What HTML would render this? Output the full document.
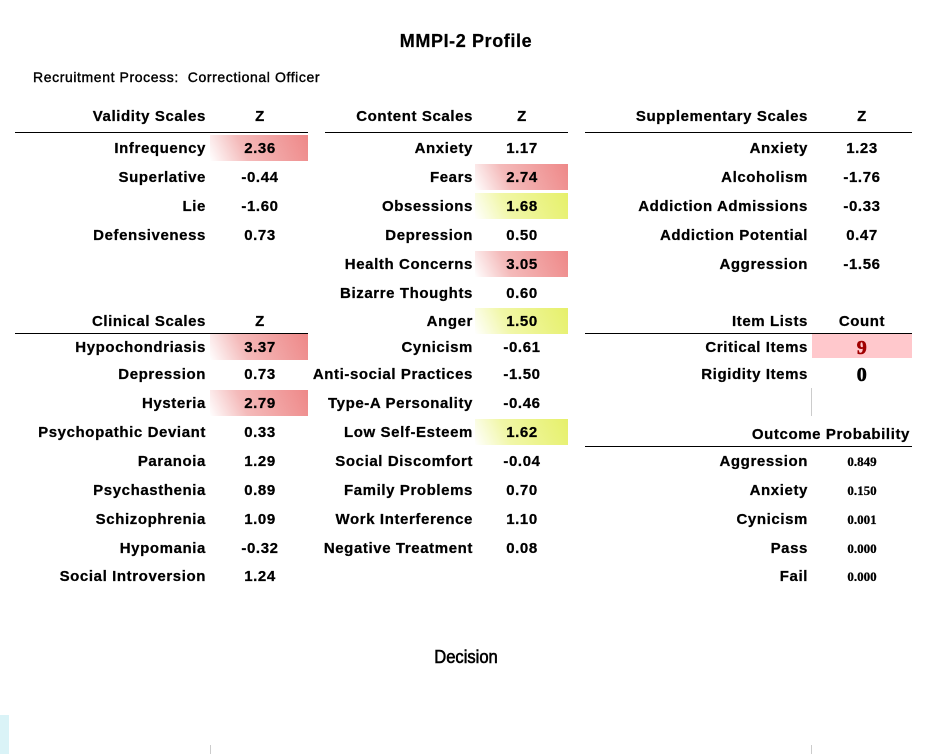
<!DOCTYPE html>
<html><head><meta charset="utf-8">
<style>
body{margin:0;width:931px;height:754px;background:#fff;position:relative;overflow:hidden;font-family:"Liberation Sans",sans-serif;color:#000}
.t{position:absolute;white-space:nowrap;font-weight:bold;font-size:15px;letter-spacing:0.6px;line-height:18px;-webkit-text-stroke:0.25px #000}
.r{text-align:right}
.c{text-align:center}
.line{position:absolute;height:1px;background:#000}
.hl-red{position:absolute;background:linear-gradient(65deg,#ffffff 0%,#f4baba 35%,#ee8888 100%)}
.hl-yel{position:absolute;background:linear-gradient(65deg,#ffffff 0%,#f1f7a8 35%,#e6f06a 100%)}
</style></head>
<body>
<div class="t c" style="left:266px;width:400px;top:32px;font-size:18px">MMPI-2 Profile</div>
<div class="t" style="left:33px;top:68px;font-size:14px;font-weight:normal;-webkit-text-stroke:0.4px #000">Recruitment Process:&nbsp; Correctional Officer</div>
<div id="root"></div>
<div class="t c" style="left:366px;width:200px;top:648px;font-size:18px;font-weight:normal;letter-spacing:0;transform:scaleX(0.92);-webkit-text-stroke:0.6px #000">Decision</div>
<div style="position:absolute;left:0;top:715px;width:9px;height:39px;background:#daf3f7"></div>
<div style="position:absolute;left:210px;top:745px;width:1px;height:9px;background:#ccc"></div>
<div style="position:absolute;left:811px;top:745px;width:1px;height:9px;background:#ccc"></div>
<div style="position:absolute;left:811px;top:388px;width:1px;height:28px;background:#ccc"></div>
<script>
const validityLabels=["Infrequency","Superlative","Lie","Defensiveness"];
const validityZ=[2.36,-0.44,-1.60,0.73];
const clinicalLabels=["Hypochondriasis","Depression","Hysteria","Psychopathic Deviant","Paranoia","Psychasthenia","Schizophrenia","Hypomania","Social Introversion"];
const clinicalZ=[3.37,0.73,2.79,0.33,1.29,0.89,1.09,-0.32,1.24];
const contentLabels=["Anxiety","Fears","Obsessions","Depression","Health Concerns","Bizarre Thoughts","Anger","Cynicism","Anti-social Practices","Type-A Personality","Low Self-Esteem","Social Discomfort","Family Problems","Work Interference","Negative Treatment"];
const contentZ=[1.17,2.74,1.68,0.50,3.05,0.60,1.50,-0.61,-1.50,-0.46,1.62,-0.04,0.70,1.10,0.08];
const suppLabels=["Anxiety","Alcoholism","Addiction Admissions","Addiction Potential","Aggression"];
const suppZ=[1.23,-1.76,-0.33,0.47,-1.56];
const itemLabels=["Critical Items","Rigidity Items"];
const itemCounts=[9,0];
const outcomeLabels=["Aggression","Anxiety","Cynicism","Pass","Fail"];
const outcomeProb=[0.849,0.150,0.001,0.000,0.000];

const root=document.getElementById('root');
function txt(s,x,y,w,cls,name,extra){
  const d=document.createElement('div');
  d.className='t '+cls;
  
  
  d.style.left=x+'px';d.style.top=(y-8)+'px';d.style.width=w+'px';
  if(extra)Object.assign(d.style,extra);
  d.textContent=s;root.appendChild(d);return d;
}
function line(x,y,w,name){
  const d=document.createElement('div');d.className='line';
  
  
  d.style.left=x+'px';d.style.top=y+'px';d.style.width=w+'px';root.appendChild(d);
}
function hl(cls,x,y,w,h,name){
  const d=document.createElement('div');d.className=cls;
  
  
  d.style.left=x+'px';d.style.top=y+'px';d.style.width=w+'px';d.style.height=h+'px';root.appendChild(d);
}
function section(title,vh,labels,vals,rowsY,labelRight,valCenter,cellX,cellW,key){
  txt(title,labelRight-300,rowsY.h+1,300,'r',key+'-header');
  txt(vh,valCenter-50,rowsY.h+1,100,'c',key+'-value-header');
  line(rowsY.lx,rowsY.ly,rowsY.lw,key+'-header-rule');
  labels.forEach((l,i)=>{
    const y=rowsY.rows[i];
    const v=vals[i];
    if(v>=2) hl('hl-red',cellX,y-13,cellW,26,key+'-highlight');
    else if(v>=1.5) hl('hl-yel',cellX,y-13,cellW,26,key+'-highlight');
    txt(l,labelRight-300,y,300,'r',key+'-label');
    txt(v.toFixed(2),valCenter-50,y,100,'c',key+'-value');
  });
}
const r1=[148,177,206,235,264,293,321,347,374,403,432,461,490,519,548];
const r2=[347,374,403,432,461,490,519,548,576];
section('Validity Scales','Z',validityLabels,validityZ,{h:115,ly:132,lx:15,lw:293,rows:r1},206,260,210,98,'validity');
section('Clinical Scales','Z',clinicalLabels,clinicalZ,{h:320,ly:333,lx:15,lw:293,rows:r2},206,260,210,98,'clinical');
section('Content Scales','Z',contentLabels,contentZ,{h:115,ly:132,lx:325,lw:243,rows:r1},473,522,475,93,'content');
section('Supplementary Scales','Z',suppLabels,suppZ,{h:115,ly:132,lx:585,lw:327,rows:r1},808,862,812,100,'supplementary');
txt('Item Lists',508,321,300,'r','item-lists-header');
txt('Count',812,321,100,'c','count-header');
line(585,333,327,'item-lists-rule');
itemLabels.forEach((l,i)=>{
  const y=[347,374][i];
  if(itemCounts[i]>0){
    const d=document.createElement('div');
    
    
    Object.assign(d.style,{position:'absolute',left:'812px',top:(y-13)+'px',width:'100px',height:'24px',background:'#ffc8cc'});
    root.appendChild(d);
  }
  txt(l,508,y,300,'r','item-label');
  txt(String(itemCounts[i]),812,y,100,'c','item-count',{fontFamily:'"Liberation Serif",serif',fontSize:'20px',color:itemCounts[i]>0?'#a00000':'#000',webkitTextStroke:'0.6px '+(itemCounts[i]>0?'#a00000':'#000')});
});
txt('Outcome Probability',610,434,300,'r','outcome-header');
line(585,446,327,'outcome-rule');
outcomeLabels.forEach((l,i)=>{
  const y=[461,490,519,548,576][i];
  txt(l,508,y,300,'r','outcome-label');
  txt(outcomeProb[i].toFixed(3),812,y,100,'c','outcome-value',{fontFamily:'"Liberation Serif",serif',fontSize:'13px',letterSpacing:'0'});
});
</script>
</body></html>
